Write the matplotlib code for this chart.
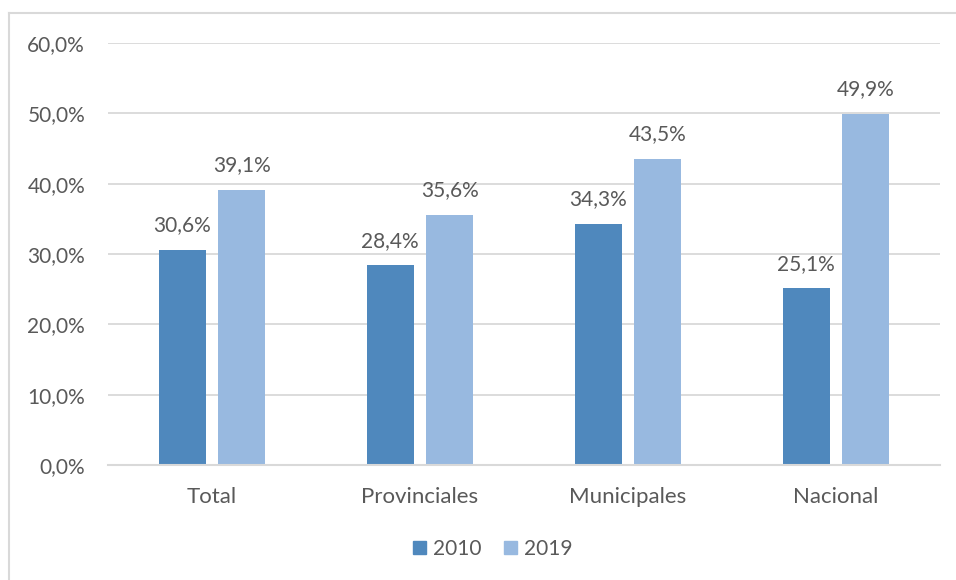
import matplotlib
matplotlib.use("Agg")
import matplotlib.pyplot as plt
from matplotlib.patches import Rectangle
from matplotlib.lines import Line2D
import numpy as np

categories = ["Total", "Provinciales", "Municipales", "Nacional"]
series_names = ["2010", "2019"]
values_2010 = [30.6, 28.4, 34.3, 25.1]
values_2019 = [39.1, 35.6, 43.5, 49.9]
y_ticks = [0, 10, 20, 30, 40, 50, 60]

colors = ["#4F88BD", "#98B9E0"]
text_color = "#595959"
grid_color = "#D9D9D9"
fs = 15

plt.rcParams["font.family"] = ["Lato", "DejaVu Sans"]

W, H = 956, 580
fig = plt.figure(figsize=(W / 100, H / 100), dpi=100)

# plot area in pixel coordinates
left, right, top, bottom = 108, 940, 43, 465
ax = fig.add_axes([left / W, 1 - bottom / H, (right - left) / W, (bottom - top) / H])

x = np.arange(len(categories))
bw = 0.226
off = 0.143
ax.bar(x - off, values_2010, bw, color=colors[0], zorder=3)
ax.bar(x + off, values_2019, bw, color=colors[1], zorder=3)

def fmt(v):
    return f"{v:.1f}".replace(".", ",") + "%"

for xs, vals in ((x - off, values_2010), (x + off, values_2019)):
    for xi, v in zip(xs, vals):
        ax.text(xi, v + 3.5, fmt(v), ha="center", va="center", fontsize=fs, color=text_color)

ax.set_xlim(-0.5, len(categories) - 0.5)
ax.set_ylim(0, 60)
ax.set_yticks(y_ticks)
ax.set_yticklabels([f"{t:.1f}".replace(".", ",") + "%" for t in y_ticks])
ax.set_xticks(x)
ax.set_xticklabels(categories)
ax.tick_params(axis="both", length=0, colors=text_color)
ax.tick_params(axis="y", pad=16.5, labelsize=fs)
ax.tick_params(axis="x", pad=16, labelsize=16)
ax.yaxis.grid(True, color=grid_color, linewidth=1.3, zorder=0)
for s in ["top", "right", "left"]:
    ax.spines[s].set_visible(False)
ax.spines["bottom"].set_color(grid_color)
ax.spines["bottom"].set_linewidth(1.5)
ax.spines["bottom"].set_zorder(4)

handles = [Rectangle((0, 0), 1, 1, color=c) for c in colors]
fig.legend(handles, series_names, loc="center", bbox_to_anchor=(493 / W, 1 - 549 / H),
           ncol=2, frameon=False, fontsize=fs, handlelength=0.6, handleheight=0.6,
           handletextpad=0.35, columnspacing=1.1, labelcolor=text_color)

# chart frame (top and left edges)
fig.add_artist(Line2D([8.5 / W, 8.5 / W], [0, 1 - 12.5 / H], transform=fig.transFigure,
                      color=grid_color, linewidth=1.5))
fig.add_artist(Line2D([8.5 / W, 1], [1 - 12.5 / H, 1 - 12.5 / H], transform=fig.transFigure,
                      color=grid_color, linewidth=1.5))

fig.savefig("out.png", dpi=100, facecolor="white")
